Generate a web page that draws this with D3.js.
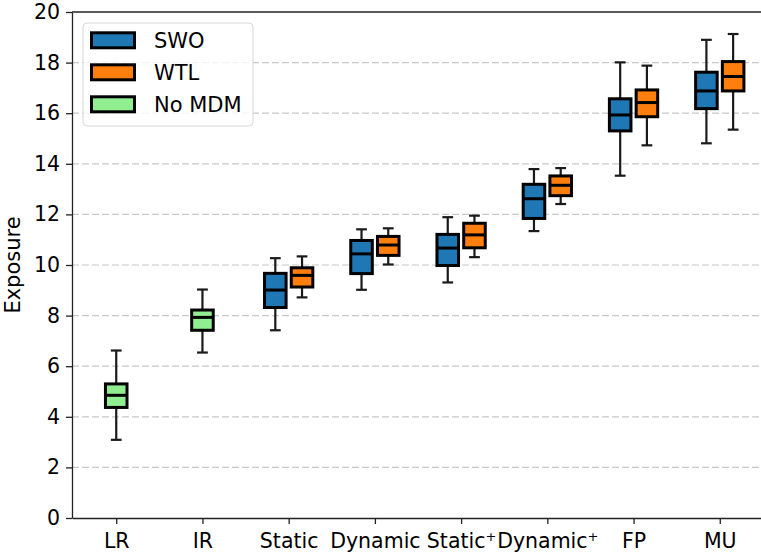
<!DOCTYPE html>
<html>
<head>
<meta charset="utf-8">
<script src="https://cdn.jsdelivr.net/npm/d3@7"></script>
<style>
  body { margin: 0; background: #fff; }
  text { font-family: "DejaVu Sans", sans-serif; }
</style>
</head>
<body>
<div id="chart"></div>
<script>
// Categories along the x axis
var categories = ["LR", "IR", "Static", "Dynamic", "Static+", "Dynamic+", "FP", "MU"];

// Box stats: [whisker low, q1, median, q3, whisker high]
var noMdmCats = ["LR", "IR"];
var noMdmStats = [
    [3.09, 4.37, 4.85, 5.30, 6.62],
    [6.54, 7.42, 7.93, 8.22, 9.03]
];

var pairCats = ["Static", "Dynamic", "Static+", "Dynamic+", "FP", "MU"];
var swoStats = [
    [7.42, 8.32, 9.01, 9.67, 10.27],
    [9.02, 9.66, 10.44, 10.97, 11.41],
    [9.31, 9.98, 10.67, 11.21, 11.89],
    [11.34, 11.84, 12.62, 13.19, 13.79],
    [13.53, 15.30, 15.93, 16.57, 18.01],
    [14.81, 16.18, 16.88, 17.62, 18.90]
];
var wtlStats = [
    [8.72, 9.13, 9.59, 9.89, 10.34],
    [10.02, 10.38, 10.79, 11.13, 11.45],
    [10.31, 10.68, 11.19, 11.65, 11.95],
    [12.41, 12.74, 13.15, 13.52, 13.83],
    [14.73, 15.86, 16.42, 16.92, 17.88],
    [15.35, 16.88, 17.45, 18.04, 19.13]
];

var yTicks = [0, 2, 4, 6, 8, 10, 12, 14, 16, 18, 20];
var legendNames = ["SWO", "WTL", "No MDM"];
var legendColors = ["#1f77b4", "#ff7f0e", "#90ee90"];

// Chart parameters
var svgWidth = 761;
var svgHeight = 556;
var plot = { left: 72, right: 764, top: 12, bottom: 518 };
var boxWidth = 0.25;
var pairOffset = 0.155;
var fontSize = 20.5;

var svg = d3.select("#chart")
    .append("svg")
    .attr("width", svgWidth)
    .attr("height", svgHeight);

var x = d3.scaleLinear()
    .domain([0.487, 8.513])
    .range([plot.left, plot.right]);

var y = d3.scaleLinear()
    .domain([0, 20])
    .range([plot.bottom, plot.top]);

// Grid lines
svg.append("g")
    .selectAll("line")
    .data(yTicks.filter(d => d > 0 && d < 20))
    .enter()
    .append("line")
    .attr("x1", plot.left)
    .attr("x2", plot.right)
    .attr("y1", d => y(d))
    .attr("y2", d => y(d))
    .attr("stroke", "#c8c8c8")
    .attr("stroke-width", 1.2)
    .attr("stroke-dasharray", "7,3");

// Collect all boxes
var boxes = [];
noMdmCats.forEach(function (c, i) {
    boxes.push({ pos: categories.indexOf(c) + 1, s: noMdmStats[i], color: legendColors[2] });
});
pairCats.forEach(function (c, i) {
    var p = categories.indexOf(c) + 1;
    boxes.push({ pos: p - pairOffset, s: swoStats[i], color: legendColors[0] });
    boxes.push({ pos: p + pairOffset, s: wtlStats[i], color: legendColors[1] });
});

var boxG = svg.append("g")
    .selectAll("g")
    .data(boxes)
    .enter()
    .append("g");

var halfW = (x(boxWidth) - x(0)) / 2;
var capW = halfW / 2;

// Whiskers
boxG.append("line")
    .attr("x1", d => x(d.pos)).attr("x2", d => x(d.pos))
    .attr("y1", d => y(d.s[0])).attr("y2", d => y(d.s[1]))
    .attr("stroke", "#1a1a1a").attr("stroke-width", 2.2);
boxG.append("line")
    .attr("x1", d => x(d.pos)).attr("x2", d => x(d.pos))
    .attr("y1", d => y(d.s[3])).attr("y2", d => y(d.s[4]))
    .attr("stroke", "#1a1a1a").attr("stroke-width", 2.2);

// Caps
[0, 4].forEach(function (k) {
    boxG.append("line")
        .attr("x1", d => x(d.pos) - capW).attr("x2", d => x(d.pos) + capW)
        .attr("y1", d => y(d.s[k])).attr("y2", d => y(d.s[k]))
        .attr("stroke", "#1a1a1a").attr("stroke-width", 2.2);
});

// Boxes
boxG.append("rect")
    .attr("x", d => x(d.pos) - halfW)
    .attr("width", halfW * 2)
    .attr("y", d => y(d.s[3]))
    .attr("height", d => y(d.s[1]) - y(d.s[3]))
    .attr("fill", d => d.color)
    .attr("stroke", "#000")
    .attr("stroke-width", 3);

// Medians
boxG.append("line")
    .attr("x1", d => x(d.pos) - halfW).attr("x2", d => x(d.pos) + halfW)
    .attr("y1", d => y(d.s[2])).attr("y2", d => y(d.s[2]))
    .attr("stroke", "#000").attr("stroke-width", 3);

// Y axis
var yAxis = svg.append("g")
    .attr("transform", `translate(${plot.left}, 0)`)
    .call(d3.axisLeft(y).tickValues(yTicks).tickSize(6).tickSizeOuter(0).tickPadding(6));
yAxis.selectAll("text")
    .attr("font-size", fontSize)
    .attr("fill", "#000")
    .attr("font-family", "DejaVu Sans");

// X axis
var xAxis = svg.append("g")
    .attr("transform", `translate(0, ${plot.bottom})`)
    .call(d3.axisBottom(x).tickValues(d3.range(1, categories.length + 1))
        .tickSize(6).tickSizeOuter(0).tickFormat(""));

xAxis.selectAll(".tick").each(function (d) {
    var name = categories[d - 1];
    var t = d3.select(this).select("text")
        .attr("font-size", fontSize)
        .attr("fill", "#000")
        .attr("font-family", "DejaVu Sans")
        .attr("dy", "0.71em")
        .attr("y", 15);
    if (name.endsWith("+")) {
        t.append("tspan").text(name.slice(0, -1));
        t.append("tspan").text("+").attr("font-size", 13).attr("baseline-shift", "super");
    } else {
        t.text(name);
    }
});

svg.selectAll(".domain, .tick line").attr("stroke", "#222").attr("stroke-width", 1.3);

// Top and right spines
svg.append("line")
    .attr("x1", plot.left).attr("x2", plot.right)
    .attr("y1", plot.top).attr("y2", plot.top)
    .attr("stroke", "#222").attr("stroke-width", 1.3);
svg.append("line")
    .attr("x1", plot.right).attr("x2", plot.right)
    .attr("y1", plot.top).attr("y2", plot.bottom)
    .attr("stroke", "#222").attr("stroke-width", 1.3);

// Y label
svg.append("text")
    .attr("transform", `translate(19.5, ${(plot.top + plot.bottom) / 2}) rotate(-90)`)
    .attr("text-anchor", "middle")
    .attr("font-size", 21)
    .text("Exposure");

// Legend
var legend = svg.append("g");
legend.append("rect")
    .attr("x", 83).attr("y", 23)
    .attr("width", 170).attr("height", 103)
    .attr("rx", 4)
    .attr("fill", "#fff").attr("fill-opacity", 0.8)
    .attr("stroke", "#d8d8d8").attr("stroke-width", 1);

var rows = legend.selectAll(".row")
    .data(legendNames)
    .enter()
    .append("g")
    .attr("transform", (d, i) => `translate(0, ${40.3 + i * 32})`);

rows.append("rect")
    .attr("x", 91.5).attr("y", -7.5)
    .attr("width", 43).attr("height", 15)
    .attr("fill", (d, i) => legendColors[i])
    .attr("stroke", "#000").attr("stroke-width", 3);

rows.append("text")
    .attr("x", 154)
    .attr("y", 0)
    .attr("dy", "0.36em")
    .attr("font-size", 21)
    .text(d => d);
</script>
</body>
</html>
